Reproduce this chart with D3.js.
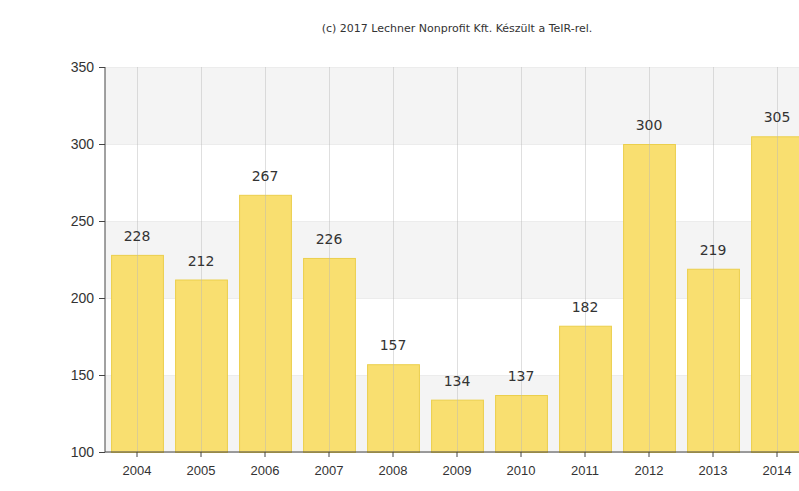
<!DOCTYPE html>
<html>
<head>
<meta charset="utf-8">
<script src="https://cdn.jsdelivr.net/npm/d3@7"></script>
<style>
  body { margin: 0; background: #fff; }
  svg { font-family: "DejaVu Sans", Verdana, sans-serif; }
</style>
</head>
<body>
<div id="chart"></div>
<script>
const years = ["2004", "2005", "2006", "2007", "2008", "2009", "2010", "2011", "2012", "2013", "2014"];
const values = [228, 212, 267, 226, 157, 134, 137, 182, 300, 219, 305];
const yTicks = [100, 150, 200, 250, 300, 350];
const title = "(c) 2017 Lechner Nonprofit Kft. Készült a TeIR-rel.";

const width = 799;
const height = 491;
const margin = { top: 67, right: -10, bottom: 39, left: 105 };

const svg = d3.select("#chart")
  .append("svg")
  .attr("width", width)
  .attr("height", height);

const x = d3.scaleBand()
  .domain(years)
  .range([margin.left, width - margin.right])
  .paddingInner(0.19)
  .paddingOuter(0.095);

const y = d3.scaleLinear()
  .domain([100, 350])
  .range([height - margin.bottom, margin.top]);

// alternating background stripes
const stripes = d3.pairs(yTicks).filter((d, i) => i % 2 === 0);
svg.append("g")
  .selectAll("rect")
  .data(stripes)
  .join("rect")
  .attr("x", margin.left)
  .attr("width", width - margin.left)
  .attr("y", d => y(d[1]))
  .attr("height", d => y(d[0]) - y(d[1]))
  .attr("fill", "#f4f4f4");

// horizontal grid
svg.append("g")
  .selectAll("line")
  .data(yTicks)
  .join("line")
  .attr("x1", margin.left)
  .attr("x2", width)
  .attr("y1", d => y(d) + 0.5)
  .attr("y2", d => y(d) + 0.5)
  .attr("stroke", "#ececec");

// bars
svg.append("g")
  .selectAll("rect")
  .data(values)
  .join("rect")
  .attr("x", (d, i) => x(years[i]) + 0.5)
  .attr("y", d => y(d) + 0.5)
  .attr("width", x.bandwidth())
  .attr("height", d => y(100) - y(d))
  .attr("fill", "#f9df70")
  .attr("stroke", "#ebcf4c");

// vertical grid lines (show through bars)
svg.append("g")
  .selectAll("line")
  .data(years)
  .join("line")
  .attr("x1", d => Math.round(x(d) + x.bandwidth() / 2) + 0.5)
  .attr("x2", d => Math.round(x(d) + x.bandwidth() / 2) + 0.5)
  .attr("y1", y(350))
  .attr("y2", y(100))
  .attr("stroke", "#b8b8b8")
  .attr("stroke-opacity", 0.45);

// value labels
svg.append("g")
  .selectAll("text")
  .data(values)
  .join("text")
  .attr("x", (d, i) => x(years[i]) + x.bandwidth() / 2)
  .attr("y", d => y(d) - 14)
  .attr("text-anchor", "middle")
  .attr("font-size", 14)
  .attr("fill", "#333")
  .text(d => d);

// axes
svg.append("g")
  .attr("transform", `translate(${margin.left},0)`)
  .call(d3.axisLeft(y).tickValues(yTicks).tickSize(6).tickPadding(5))
  .call(g => g.selectAll("text").attr("font-size", 14).attr("fill", "#333"))
  .call(g => g.selectAll("line, path").attr("stroke", "#444"))
  .call(g => g.select(".domain").attr("d", `M0,${y(350)}V${y(100)}`));

svg.append("g")
  .attr("transform", `translate(0,${y(100)})`)
  .call(d3.axisBottom(x).tickSize(5).tickPadding(9))
  .call(g => g.selectAll("text").attr("font-size", 13).attr("fill", "#333"))
  .call(g => g.selectAll("line, path").attr("stroke", "#444"))
  .call(g => g.select(".domain").attr("d", `M${margin.left},0H${width}`));

svg.append("text")
  .attr("x", 457)
  .attr("y", 32)
  .attr("text-anchor", "middle")
  .attr("font-size", 11)
  .attr("fill", "#333")
  .text(title);
</script>
</body>
</html>
